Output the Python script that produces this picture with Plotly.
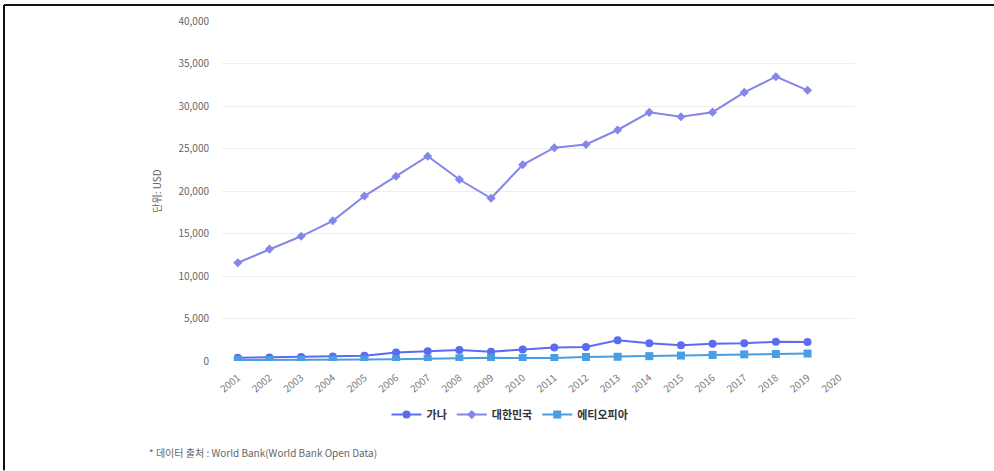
import plotly.graph_objects as go

years = list(range(2001, 2021))
tick_labels = [str(y) for y in years]
data_years = list(range(2001, 2020))

ghana = [380, 420, 480, 540, 620, 1000, 1160, 1280, 1100, 1340, 1600, 1650, 2440, 2100, 1840, 2030, 2100, 2260, 2250]
korea = [11563, 13165, 14673, 16496, 19403, 21743, 24086, 21350, 19144, 23087, 25096, 25467, 27178, 29253, 28737, 29274, 31601, 33447, 31846]
ethiopia = [125, 115, 120, 140, 165, 195, 245, 325, 380, 340, 355, 470, 500, 570, 640, 710, 780, 820, 880]

names = ["가나", "대한민국", "에티오피아"]
colors = ["#5b6cf0", "#8585ea", "#4a9de0"]
symbols = ["circle", "diamond", "square"]
sizes = [8, 7, 8]

FONT = "Noto Sans CJK KR"

fig = go.Figure()
for name, vals, col, sym, sz in zip(names, [ghana, korea, ethiopia], colors, symbols, sizes):
    fig.add_trace(go.Scatter(
        x=data_years, y=vals, name=name, mode="lines+markers",
        line=dict(color=col, width=2),
        marker=dict(symbol=sym, size=sz, color=col),
    ))

fig.update_layout(
    width=994, height=471,
    margin=dict(l=222, r=139, t=19, b=110),
    paper_bgcolor="white", plot_bgcolor="white",
    font=dict(family=FONT, size=10, color="#666"),
    showlegend=True,
    legend=dict(orientation="h", x=0.455, xanchor="center", y=-0.115, yanchor="top",
                font=dict(family=FONT, size=11, color="#333", weight="bold"),
                itemwidth=30, tracegroupgap=0),
    xaxis=dict(range=[2000.5, 2020.5], tickmode="array", tickvals=years, ticktext=tick_labels,
               tickangle=-40, showgrid=False, zeroline=False, showline=False,
               ticks="outside", ticklen=6, tickcolor="rgba(0,0,0,0)",
               tickfont=dict(size=10, color="#777")),
    yaxis=dict(range=[0, 40000], tickmode="array", tickvals=list(range(0, 40001, 5000)),
               tickformat=",", showgrid=True, gridcolor="#eeeeee", gridwidth=1,
               zeroline=False, showline=False, ticks="", ticklabelstandoff=12,
               title=dict(text="단위: USD", font=dict(size=10, color="#666"), standoff=14),
               tickfont=dict(size=10, color="#666")),
    annotations=[dict(text="* 데이터 출처 : World Bank(World Bank Open Data)", xref="paper", yref="paper",
                      x=(147 - 222) / 633, y=-(453 - 361) / 342, xanchor="left", yanchor="middle",
                      showarrow=False, font=dict(family=FONT, size=10, color="#666"))],
    shapes=[
        dict(type="line", xref="paper", yref="paper", x0=(4 - 222) / 633, x1=(994 - 222) / 633,
             y0=(361 - 3) / 342, y1=(361 - 3) / 342, line=dict(color="#111", width=2)),
        dict(type="line", xref="paper", yref="paper", x0=(4 - 222) / 633, x1=(4 - 222) / 633,
             y0=(361 - 3) / 342, y1=(361 - 471) / 342, line=dict(color="#111", width=2)),
    ],
)

fig.write_html("out.html")
